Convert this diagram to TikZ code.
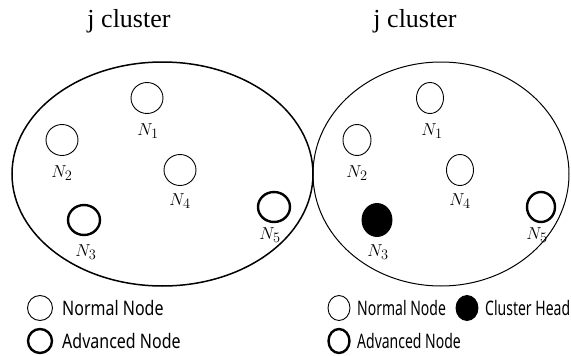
\documentclass[tikz,border=0pt]{standalone}
\usepackage{fontspec}
\setmainfont{Liberation Serif}
\newfontfamily\legendfont[FakeStretch=0.8]{Noto Sans}
\newfontfamily\legendfontr[FakeStretch=0.7]{Noto Sans}
\usetikzlibrary{shapes.geometric}
\tikzset{
  normalnode/.style={draw, ellipse, line width=0.9pt, inner sep=0pt, minimum width=#1, minimum height=31pt},
  advnode/.style={draw, ellipse, line width=2.4pt, inner sep=0pt, minimum width=#1, minimum height=30pt},
  headnode/.style={draw, fill=black, ellipse, line width=0.9pt, inner sep=0pt, minimum width=#1, minimum height=33pt},
  nlabel/.style={inner sep=0pt, font=\fontsize{19}{21}\selectfont},
  title/.style={inner sep=0pt, font=\fontsize{26}{28}\selectfont},
  legtext/.style={anchor=west, inner sep=0pt, font=\legendfont\fontsize{20}{22}\selectfont},
  legtextr/.style={anchor=west, inner sep=0pt, font=\legendfontr\fontsize{20}{22}\selectfont},
}
\begin{document}
\begin{tikzpicture}[x=1pt,y=-1pt]
\useasboundingbox (0,0) rectangle (571,356);
% titles
\node[title] (t1) at (129,21) {j cluster};
\node[title] (t2) at (415,21) {j cluster};
% clusters
\draw[line width=1.5pt] (162.5,174) ellipse [x radius=150.5, y radius=112];
\draw[line width=1pt] (441,174) ellipse [x radius=128, y radius=112];
% left cluster nodes
\node[normalnode=32pt] (a1) at (147,98) {};
\node[nlabel] (la1) at (148,131) {$N_1$};
\node[normalnode=32pt] (a2) at (62,140) {};
\node[nlabel] (la2) at (62,173) {$N_2$};
\node[normalnode=32pt] (a4) at (180,170) {};
\node[nlabel] (la4) at (180,201) {$N_4$};
\node[advnode=32pt] (a3) at (84,220) {};
\node[nlabel] (la3) at (86,252) {$N_3$};
\node[advnode=32pt] (a5) at (274,207) {};
\node[nlabel] (la5) at (270,235) {$N_5$};
% right cluster nodes
\node[normalnode=27pt] (b1) at (430,98) {};
\node[nlabel] (lb1) at (432,131) {$N_1$};
\node[normalnode=28pt] (b2) at (357,140) {};
\node[nlabel] (lb2) at (357,173) {$N_2$};
\node[normalnode=27pt] (b4) at (460,170) {};
\node[nlabel] (lb4) at (460,201) {$N_4$};
\node[headnode=30pt] (b3) at (377,220) {};
\node[nlabel] (lb3) at (378,252) {$N_3$};
\node[advnode=28pt] (b5) at (541,207) {};
\node[nlabel] (lb5) at (537,235) {$N_5$};
% left legend
\node[normalnode=25pt, minimum height=25pt] (ln) at (40,308) {};
\node[legtext] (lnt) at (62,308) {Normal Node};
\node[advnode=24pt, minimum height=24pt] (la) at (40,341) {};
\node[legtext] (lat) at (62,341) {Advanced Node};
% right legend
\node[normalnode=22pt, minimum height=25pt] (rn) at (339,308) {};
\node[legtextr] (rnt) at (357,308) {Normal Node};
\node[headnode=22pt, minimum height=25pt] (rh) at (467,308) {};
\node[legtextr] (rht) at (485,308) {Cluster Head};
\node[advnode=21pt, minimum height=24pt] (ra) at (339,341) {};
\node[legtextr] (rat) at (357,341) {Advanced Node};
\end{tikzpicture}
\end{document}
